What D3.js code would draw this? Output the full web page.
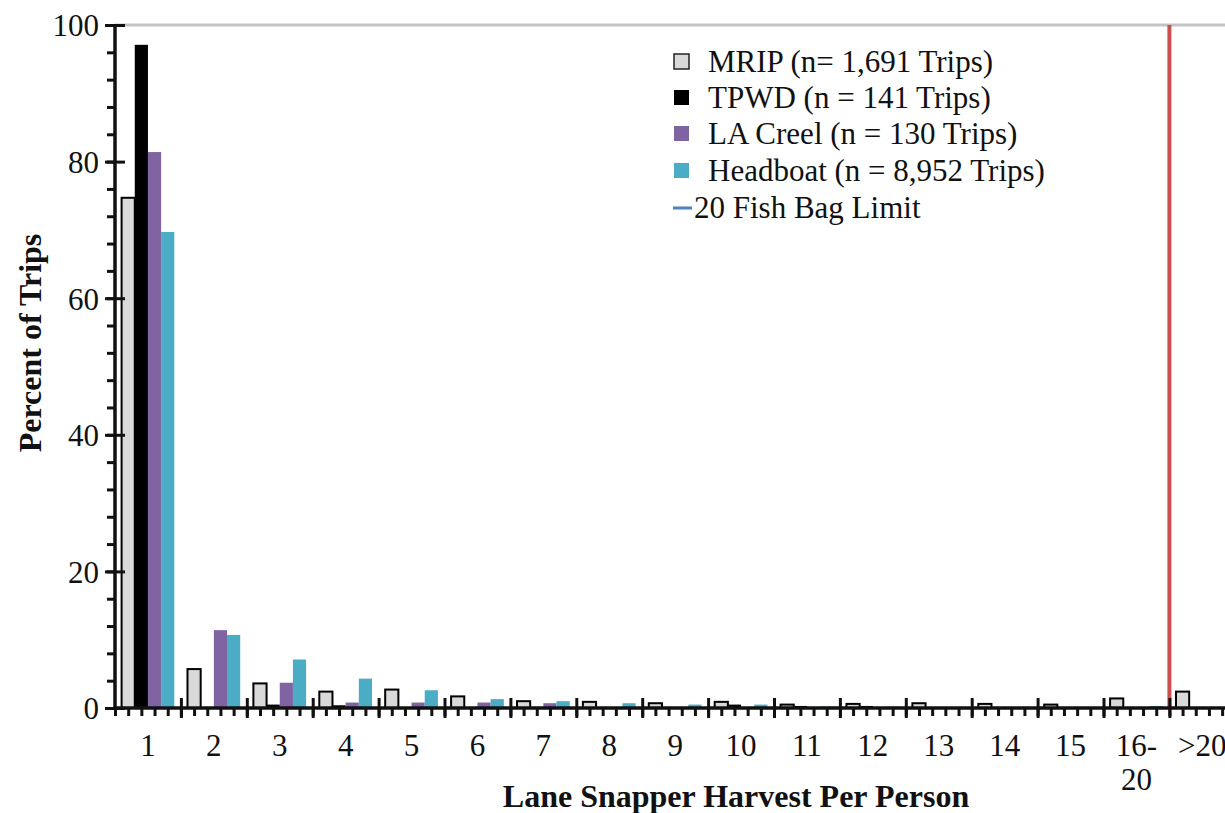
<!DOCTYPE html>
<html>
<head>
<meta charset="utf-8">
<script src="https://cdn.jsdelivr.net/npm/d3@7"></script>
<style>
  body { margin: 0; background: #fff; overflow: hidden; }
  text { font-family: "Liberation Serif", "Times New Roman", serif; fill: #111; }
</style>
</head>
<body>
<div id="vis"></div>
<script>
// categories on the x axis
var categories = ['1', '2', '3', '4', '5', '6', '7', '8', '9', '10', '11', '12', '13', '14', '15', '16-20', '>20'];

// percent of trips per category, one array per survey
var mrip     = [74.7, 5.7, 3.6, 2.4, 2.7, 1.7, 1.0, 0.9, 0.7, 0.9, 0.5, 0.6, 0.7, 0.6, 0.5, 1.4, 2.4];
var tpwd     = [97.1, 0, 0.5, 0.4, 0, 0, 0, 0, 0, 0.5, 0.3, 0.3, 0, 0, 0, 0, 0];
var laCreel  = [81.4, 11.4, 3.7, 0.8, 0.8, 0.8, 0.7, 0, 0, 0, 0, 0, 0, 0, 0, 0, 0];
var headboat = [69.7, 10.7, 7.1, 4.3, 2.6, 1.3, 1.0, 0.7, 0.5, 0.5, 0.2, 0.2, 0.1, 0.1, 0, 0.3, 0];

var seriesNames = ['MRIP (n= 1,691 Trips)', 'TPWD (n = 141 Trips)', 'LA Creel (n = 130 Trips)', 'Headboat (n = 8,952 Trips)'];
var seriesColors = ['#d9d9d9', '#000000', '#8064a2', '#4bacc6'];
var bagLimitLabel = '20 Fish Bag Limit';
var bagLimitAt = '>20';   // line drawn at the left edge of this category

var yTicks = [0, 20, 40, 60, 80, 100];

var width = 1225, height = 813;
var plotLeft = 115, plotTop = 25, plotBottom = 708;
var groupW = 65.9;

var svg = d3.select('#vis').append('svg')
    .attr('width', width)
    .attr('height', height);

var x = d3.scaleBand()
    .domain(categories)
    .range([plotLeft, plotLeft + groupW * categories.length]);

var xInner = d3.scaleBand()
    .domain(d3.range(4))
    .range([x.bandwidth() * 0.1, x.bandwidth() * 0.9]);

// linear scale for group boundaries and minor ticks
var xl = d3.scaleLinear()
    .domain([0, categories.length])
    .range([plotLeft, plotLeft + groupW * categories.length]);

var y = d3.scaleLinear()
    .domain([0, 100])
    .range([plotBottom, plotTop]);

// top border line
svg.append('line')
    .attr('x1', plotLeft).attr('x2', width)
    .attr('y1', y(100)).attr('y2', y(100))
    .attr('stroke', '#c4c4c4')
    .attr('stroke-width', 3);

// bars
var series = [mrip, tpwd, laCreel, headboat];
var barData = [];
series.forEach(function (vals, s) {
    vals.forEach(function (v, i) {
        if (v > 0) barData.push({cat: categories[i], s: s, v: v});
    });
});

svg.append('g').selectAll('rect')
    .data(barData)
    .enter().append('rect')
    .attr('x', function (d) { return x(d.cat) + xInner(d.s); })
    .attr('y', function (d) { return y(d.v); })
    .attr('width', xInner.bandwidth())
    .attr('height', function (d) { return y(0) - y(d.v); })
    .attr('fill', function (d) { return seriesColors[d.s]; })
    .attr('stroke', function (d) { return d.s === 0 ? '#000' : 'none'; })
    .attr('stroke-width', 2);

// bag limit line
svg.append('line')
    .attr('x1', x(bagLimitAt)).attr('x2', x(bagLimitAt))
    .attr('y1', y(100)).attr('y2', y(0))
    .attr('stroke', '#c9504d')
    .attr('stroke-width', 4);

// y axis: major ticks cross the line, minor ticks on the left only
function cleanAxis(g) {
    g.select('.domain').remove();
    g.selectAll('line').attr('stroke', '#111').attr('stroke-width', 3);
}

svg.append('g')
    .attr('transform', 'translate(' + plotLeft + ',0)')
    .call(d3.axisLeft(y).tickValues(d3.range(0, 101, 4)).tickSize(8).tickFormat(''))
    .call(cleanAxis);

svg.append('g')
    .attr('transform', 'translate(' + plotLeft + ',0)')
    .call(d3.axisRight(y).tickValues(yTicks).tickSize(10).tickFormat(''))
    .call(cleanAxis);

svg.append('g')
    .attr('transform', 'translate(' + plotLeft + ',0)')
    .call(d3.axisLeft(y).tickValues(yTicks).tickSize(10).tickPadding(6))
    .call(cleanAxis)
    .selectAll('text')
    .style('font-size', '31px')
    .attr('dy', '0.35em')
    .attr('fill', '#111');

svg.append('line')
    .attr('x1', plotLeft).attr('x2', plotLeft)
    .attr('y1', y(100) - 1).attr('y2', y(0))
    .attr('stroke', '#111').attr('stroke-width', 3.5);

// x axis: minor ticks below, major ticks cross the line
svg.append('g')
    .attr('transform', 'translate(0,' + plotBottom + ')')
    .call(d3.axisBottom(xl).tickValues(d3.range(0, categories.length + 0.01, 0.2)).tickSize(8).tickFormat(''))
    .call(cleanAxis);

svg.append('g')
    .attr('transform', 'translate(0,' + plotBottom + ')')
    .call(d3.axisBottom(xl).tickValues(d3.range(1, categories.length + 1)).tickSize(10).tickFormat(''))
    .call(cleanAxis);

svg.append('g')
    .attr('transform', 'translate(0,' + plotBottom + ')')
    .call(d3.axisTop(xl).tickValues(d3.range(1, categories.length + 1)).tickSize(10).tickFormat(''))
    .call(cleanAxis);

svg.append('line')
    .attr('x1', plotLeft).attr('x2', width)
    .attr('y1', plotBottom).attr('y2', plotBottom)
    .attr('stroke', '#111').attr('stroke-width', 3.5);

// category labels, "16-20" split over two lines
var xLabels = svg.append('g').selectAll('text')
    .data(categories)
    .enter().append('text')
    .attr('x', function (d) { return x(d) + x.bandwidth() / 2; })
    .attr('y', plotBottom + 48)
    .attr('text-anchor', 'middle')
    .style('font-size', '31px');

xLabels.each(function (d) {
    var t = d3.select(this);
    if (d === '16-20') {
        t.append('tspan').attr('x', t.attr('x')).text('16-');
        t.append('tspan').attr('x', t.attr('x')).attr('dy', 34).text('20');
    } else {
        t.text(d);
    }
});

// axis titles
svg.append('text')
    .attr('x', 736)
    .attr('y', 807)
    .attr('text-anchor', 'middle')
    .style('font-size', '32px')
    .style('font-weight', 'bold')
    .text('Lane Snapper Harvest Per Person');

svg.append('text')
    .attr('transform', 'translate(41,343) rotate(-90)')
    .attr('text-anchor', 'middle')
    .style('font-size', '32px')
    .style('font-weight', 'bold')
    .text('Percent of Trips');

// legend
var legendRows = [62, 98, 134, 171, 208];
var legend = svg.append('g');

seriesNames.forEach(function (name, i) {
    legend.append('rect')
        .attr('x', 674).attr('y', legendRows[i] - 8)
        .attr('width', 15).attr('height', 15)
        .attr('fill', seriesColors[i])
        .attr('stroke', i === 0 ? '#222' : 'none')
        .attr('stroke-width', 1.5);
    legend.append('text')
        .attr('x', 708).attr('y', legendRows[i] + 10)
        .style('font-size', '31px')
        .text(name);
});

legend.append('line')
    .attr('x1', 673).attr('x2', 692)
    .attr('y1', legendRows[4]).attr('y2', legendRows[4])
    .attr('stroke', '#4f81bd').attr('stroke-width', 3);
legend.append('text')
    .attr('x', 694).attr('y', legendRows[4] + 10)
    .style('font-size', '31px')
    .text(bagLimitLabel);
</script>
</body>
</html>
